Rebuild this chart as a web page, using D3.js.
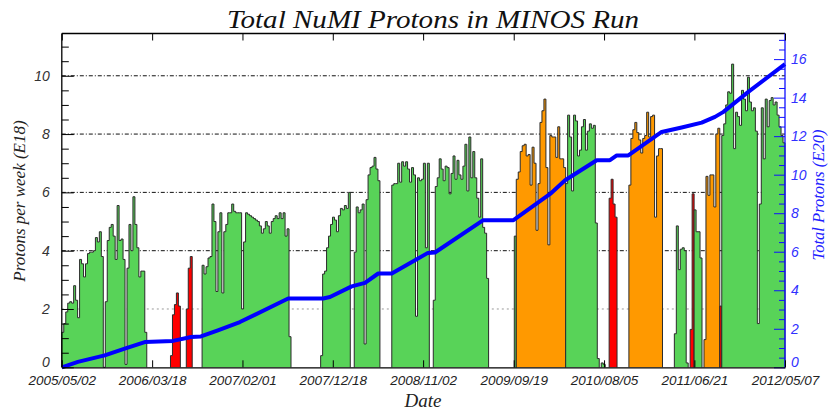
<!DOCTYPE html>
<html>
<head>
<meta charset="utf-8">
<script src="https://cdn.jsdelivr.net/npm/d3@7/dist/d3.min.js"></script>
<style>
  body { margin: 0; background: #fff; }
  svg { display: block; font-family: 'Liberation Serif', 'Times New Roman', serif; font-style: italic; }
  .axis path.domain { stroke-width: 1.3px; }
</style>
</head>
<body>
<div id="chart"></div>
<script>
// x axis tick labels (evenly spaced, as on the original plot)
const tickLabels = ['2005/05/02', '2006/03/18', '2007/02/01', '2007/12/18', '2008/11/02',
  '2009/09/19', '2010/08/05', '2011/06/21', '2012/05/07'];

// weekly protons on target (E18), one array per contiguous run of weeks
const runStart = ['2005-05-02', '2006-05-22', '2006-07-17', '2006-09-11', '2007-11-05', '2008-03-03',
  '2008-07-14', '2008-12-08', '2009-09-21', '2009-09-28', '2010-03-22', '2010-07-26', '2010-08-23',
  '2010-11-01', '2011-04-11', '2011-06-06', '2011-06-20', '2011-07-25', '2011-09-19', '2011-09-26'];
const runBeam = ['fhc', 'he', 'he', 'fhc', 'fhc', 'fhc', 'fhc', 'fhc', 'fhc', 'rhc', 'fhc', 'fhc', 'he',
  'rhc', 'fhc', 'he', 'fhc', 'rhc', 'he', 'fhc'];
const runPot = [
  [1.2, 1.5, 1.9, 2.2, 2.25, 2.2, 2.8, 2.3, 1.7, 3.7, 3.55, 3.1, 3.55, 3.9, 3.95, 3.95, 4.0, 4.45, 4.3, 4.65,
    3.8, 0, 2.25, 4.35, 4.8, 4.9, 4.5, 3.7, 5.55, 4.35, 4.4, 3.7, 0.1, 3.4, 4.9, 4.0, 5.85, 4.9, 4.1, 3.1,
    3.3, 3.3, 1.2],
  [0.4, 1.8, 2.15, 2.55, 2.1],
  [2.0, 3.4, 3.8],
  [3.5, 3.2, 3.45, 3.75, 3.8, 5.6, 5.0, 2.6, 4.65, 5.3, 2.55, 4.65, 4.9, 5.3, 5.3, 5.6, 5.35, 5.3, 5.3, 5.3,
    2.0, 4.3, 5.3, 5.25, 5.2, 5.15, 5.1, 5.05, 5.0, 4.85, 4.6, 4.75, 5.0, 4.85, 4.6, 5.0, 5.1, 5.2, 5.1, 5.3,
    5.1, 5.3, 4.5, 4.75, 1.05],
  [0.4, 3.2, 3.3, 4.1, 4.5, 4.9, 5.15, 5.05, 4.65, 5.2, 5.45, 5.4, 5.55, 5.45, 6.0],
  [3.95, 5.5, 5.3, 5.4, 5.6, 0.8, 5.75, 6.6, 6.85, 6.9, 7.2, 6.8, 6.4],
  [6.25, 6.3, 6.3, 7.0, 6.35, 7.05, 6.9, 7.05, 6.8, 6.35, 6.85, 6.6, 1.75, 6.5, 6.4, 6.45, 7.0, 4.1, 7.0],
  [2.3, 6.2, 6.5, 7.15, 6.8, 6.4, 6.9, 6.85, 5.95, 6.65, 7.25, 6.45, 7.1, 6.6, 6.45, 6.9, 7.65, 6.05, 7.9, 6.5,
    7.4, 6.5, 5.8, 5.15, 7.15, 4.8, 4.6, 3.05],
  [4.5],
  [6.45, 6.7, 7.4, 7.6, 7.65, 7.25, 7.3, 6.25, 7.55, 7.0, 4.7, 6.3, 8.4, 8.8, 9.2, 6.85, 4.2, 7.95, 7.9, 7.9,
    7.2, 8.25, 7.15, 7.15, 6.85],
  [6.3, 8.65, 7.9, 6.05, 8.65, 8.45, 7.25, 7.45, 8.25, 8.5, 7.45, 8.1, 8.35, 8.2, 8.3, 4.95, 0.3],
  [0.15, 0.1],
  [5.8, 6.45, 5.6, 5.15],
  [6.25, 7.85, 8.15, 8.4, 8.05, 7.8, 7.35, 7.85, 7.95, 8.75, 7.9, 8.6, 8.65, 5.15, 7.25, 7.5, 7.5],
  [1.15, 4.85, 3.35, 4.05, 4.1, 4.0, 0.15],
  [1.3, 5.95],
  [5.4, 4.65, 4.65, 3.75],
  [0.95, 6.55, 5.9, 6.6, 6.6, 5.5, 8.0, 8.2],
  [2.1],
  [7.95, 8.35, 9.0, 9.45, 9.4, 10.4, 7.5, 8.75, 8.6, 8.3, 9.5, 9.2, 8.8, 9.95, 9.1, 8.8, 8.9, 8.1, 1.5, 5.6,
    8.9, 7.15, 9.2, 8.25, 9.15, 9.25, 9.0, 9.1, 8.65, 8.25, 7.95, 7.7]
];

// accumulated protons (E20)
const totalDates = ['2005-05-02', '2005-06-28', '2005-10-01', '2005-12-11', '2006-02-20', '2006-05-31',
  '2006-08-03', '2006-09-07', '2006-11-06', '2007-01-23', '2007-07-13', '2007-11-14', '2007-12-08',
  '2008-02-23', '2008-04-10', '2008-05-27', '2008-07-14', '2008-09-28', '2008-11-19', '2008-12-14',
  '2009-06-03', '2009-09-18', '2010-01-26', '2010-03-20', '2010-07-10', '2010-08-26', '2010-09-19',
  '2010-10-30', '2011-02-25', '2011-05-07', '2011-07-17', '2011-09-02', '2011-10-02', '2011-12-29',
  '2012-05-07'];
const totalPot = [0, 0.28, 0.62, 0.97, 1.31, 1.37, 1.57, 1.6, 1.92, 2.35, 3.57, 3.57, 3.65, 4.2, 4.38, 4.87,
  4.87, 5.5, 5.94, 5.96, 7.64, 7.64, 9.0, 9.71, 10.75, 10.75, 11.0, 11.0, 12.22, 12.45, 12.7, 13.0, 13.26,
  14.3, 15.74];

const WIDTH = 830, HEIGHT = 410;
const margin = { top: 33.5, right: 45, bottom: 42.7, left: 61.8 };
const beamColor = d3.scaleOrdinal().domain(['fhc', 'rhc', 'he']).range(['#58d358', '#ff9900', '#ff0000']);

const parseDay = d3.timeParse('%Y-%m-%d');
const parseTick = d3.timeParse('%Y/%m/%d');
const tickDates = tickLabels.map(parseTick);

const x = d3.scaleTime()
  .domain([tickDates[0], tickDates[tickDates.length - 1]])
  .range([margin.left, WIDTH - margin.right]);
const yL = d3.scaleLinear().domain([0, 11.45]).range([HEIGHT - margin.bottom, margin.top]);
const yR = d3.scaleLinear().domain([0, 17.33]).range([HEIGHT - margin.bottom, margin.top]);

const svg = d3.select('#chart').append('svg').attr('width', WIDTH).attr('height', HEIGHT);

// grid lines behind the histogram
[2, 4, 6, 8, 10].forEach((v) => {
  svg.append('line')
    .attr('x1', margin.left).attr('x2', WIDTH - margin.right)
    .attr('y1', yL(v)).attr('y2', yL(v))
    .attr('stroke', v === 2 ? '#999' : '#111')
    .attr('stroke-width', 1)
    .attr('stroke-dasharray', v === 2 ? '2,3' : '4,2,1,2');
});

const area = d3.area().curve(d3.curveStepAfter)
  .x((d) => x(d[0])).y0(yL(0)).y1((d) => yL(d[1]));
const step = d3.line().curve(d3.curveStepAfter)
  .x((d) => x(d[0])).y((d) => yL(d[1]));

const bars = svg.append('g');
runStart.forEach((s, i) => {
  const t0 = parseDay(s);
  const vals = runPot[i];
  const pts = vals.map((v, k) => [d3.timeDay.offset(t0, 7 * k), v]);
  const tEnd = d3.timeDay.offset(t0, 7 * vals.length);
  pts.push([tEnd, vals[vals.length - 1]]);

  bars.append('path').datum(pts)
    .attr('d', area)
    .attr('fill', beamColor(runBeam[i]));

  bars.append('path').datum([[t0, 0], ...pts, [tEnd, 0]])
    .attr('d', step)
    .attr('fill', 'none')
    .attr('stroke', '#2b2b2b')
    .attr('stroke-width', 1);
});

// accumulated POT
svg.append('path')
  .datum(totalDates.map((d, i) => [parseDay(d), totalPot[i]]))
  .attr('d', d3.line().x((d) => x(d[0])).y((d) => yR(d[1])))
  .attr('fill', 'none')
  .attr('stroke', '#0000ff')
  .attr('stroke-width', 4)
  .attr('stroke-linejoin', 'round');

// frame top
svg.append('line')
  .attr('x1', margin.left).attr('x2', WIDTH - margin.right)
  .attr('y1', margin.top).attr('y2', margin.top)
  .attr('stroke', '#000').attr('stroke-width', 1.3);

const plotBottom = HEIGHT - margin.bottom;

// left axis
const minorL = d3.range(0.5, 11.45, 0.5).filter((v) => v % 2 !== 0);
svg.append('g').attr('class', 'axis')
  .attr('transform', `translate(${margin.left},0)`)
  .call(d3.axisLeft(yL).tickValues([0, 2, 4, 6, 8, 10]).tickSize(-12).tickSizeOuter(0).tickPadding(12))
  .call((g) => g.selectAll('.tick text').attr('font-size', 14).attr('fill', '#333'))
  .call((g) => g.selectAll('.tick text').filter((d) => d === 0).attr('dy', '-0.05em'))
  .call((g) => g.select('.domain').attr('d', `M0,${margin.top}V${plotBottom}`).attr('stroke', '#000'));
svg.append('g')
  .attr('transform', `translate(${margin.left},0)`)
  .call(d3.axisLeft(yL).tickValues(minorL).tickSize(-7).tickFormat(''))
  .call((g) => g.select('.domain').remove());

// right axis (blue)
const minorR = d3.range(0.5, 17.3, 0.5).filter((v) => v % 2 !== 0);
svg.append('g').attr('class', 'axis')
  .attr('transform', `translate(${WIDTH - margin.right},0)`)
  .call(d3.axisRight(yR).tickValues(d3.range(0, 17, 2)).tickSize(-11).tickSizeOuter(0).tickPadding(6))
  .call((g) => g.selectAll('line').attr('stroke', '#1010ff'))
  .call((g) => g.selectAll('.tick text').attr('font-size', 14).attr('fill', '#3030ff'))
  .call((g) => g.selectAll('.tick text').filter((d) => d === 0).attr('dy', '-0.05em'))
  .call((g) => g.select('.domain').attr('d', `M0,${margin.top}V${plotBottom}`).attr('stroke', '#1010ff'));
svg.append('g')
  .attr('transform', `translate(${WIDTH - margin.right},0)`)
  .call(d3.axisRight(yR).tickValues(minorR).tickSize(-6).tickFormat(''))
  .call((g) => g.selectAll('line').attr('stroke', '#1010ff'))
  .call((g) => g.select('.domain').remove());

// bottom and top axes
svg.append('g').attr('class', 'axis')
  .attr('transform', `translate(0,${plotBottom})`)
  .call(d3.axisBottom(x).tickValues(tickDates).tickSize(-7).tickSizeOuter(0).tickPadding(8)
    .tickFormat(d3.timeFormat('%Y/%m/%d')))
  .call((g) => g.selectAll('.tick text').attr('font-size', 13.5).attr('fill', '#222'))
  .call((g) => g.select('.domain').attr('stroke', '#000'));
svg.append('g')
  .attr('transform', `translate(0,${margin.top})`)
  .call(d3.axisTop(x).tickValues(tickDates).tickSize(-7).tickFormat(''))
  .call((g) => g.select('.domain').remove());

// titles
svg.append('text')
  .attr('x', 433).attr('y', 28)
  .attr('text-anchor', 'middle')
  .attr('font-size', 26)
  .attr('textLength', 412).attr('lengthAdjust', 'spacingAndGlyphs')
  .attr('fill', '#111')
  .text('Total NuMI Protons in MINOS Run');

svg.append('text')
  .attr('x', 423).attr('y', 407)
  .attr('text-anchor', 'middle')
  .attr('font-size', 19)
  .attr('fill', '#222')
  .text('Date');

svg.append('text')
  .attr('transform', 'translate(25,201) rotate(-90)')
  .attr('text-anchor', 'middle')
  .attr('font-size', 17)
  .attr('fill', '#222')
  .text('Protons per week (E18)');

svg.append('text')
  .attr('transform', 'translate(824,195) rotate(-90)')
  .attr('text-anchor', 'middle')
  .attr('font-size', 16.5)
  .attr('fill', '#2020ff')
  .text('Total Protons (E20)');
</script>
</body>
</html>
